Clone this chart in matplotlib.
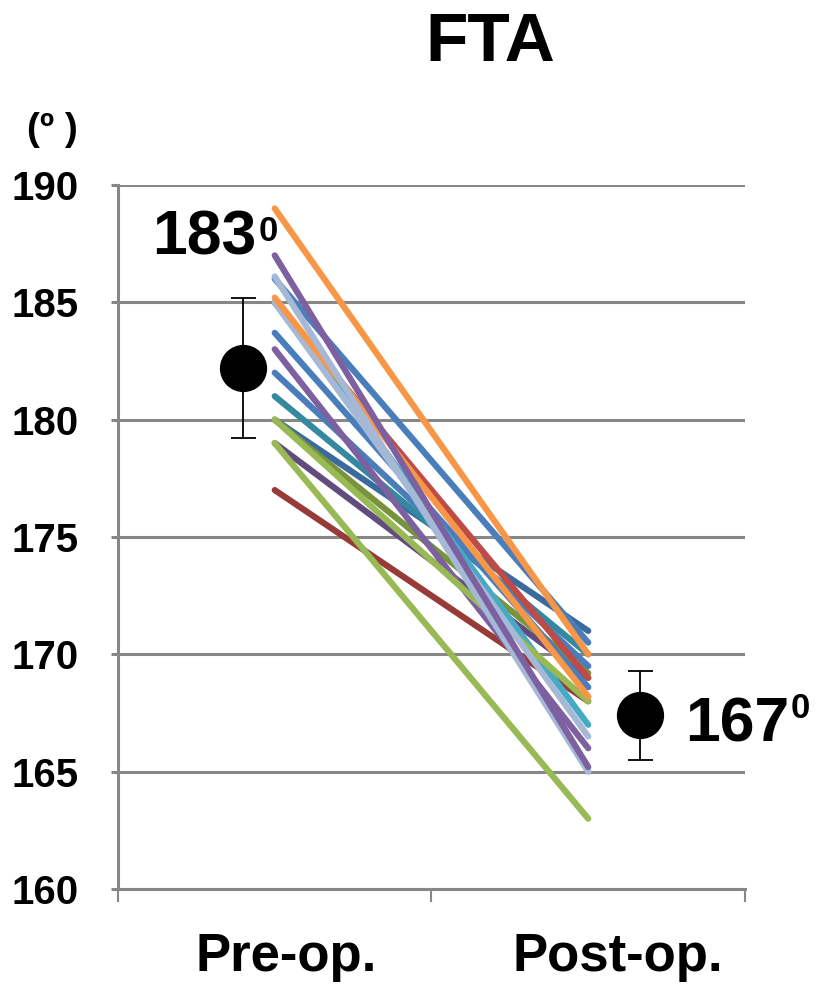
import matplotlib.pyplot as plt
import matplotlib.transforms as mtransforms

plt.rcParams['font.family'] = ['Liberation Sans', 'DejaVu Sans']
plt.rcParams['font.weight'] = 'bold'

# individual patients: pre-op and post-op FTA (degrees)
pre_vals = [180, 179, 177, 181, 180, 182, 183.7, 186, 185, 185, 183, 180, 179,
            185, 185.2, 186.1, 187, 189]
post_vals = [171, 169, 168, 170, 169.2, 169.5, 168.6, 170.5, 169, 167, 166, 168,
             163, 166.5, 168.2, 165, 165.2, 170]
line_colors = ['#3B6A9E', '#624C7E', '#973A38', '#33899F', '#77933C', '#4A7EBB',
               '#4A7EBB', '#4A7EBB', '#BE4B48', '#46AAC5', '#7D60A0', '#98B954',
               '#98B954', '#A5B8D6', '#F79646', '#A5B8D6', '#7D60A0', '#F79646']

categories = ['Pre-op.', 'Post-op.']
mean_vals = [182.2, 167.4]
sd_vals = [3.0, 1.9]
mean_x = [-0.10, 1.165]
mean_labels = ['183', '167']

fig = plt.figure(figsize=(8.2, 9.84), dpi=100)
ax = fig.add_axes([0.1439, 0.0965, 0.7646, 0.7155])

for a, b, c in zip(pre_vals, post_vals, line_colors):
    ax.plot([0, 1], [a, b], color=c, linewidth=4.5, solid_capstyle='round', zorder=3)

ax.errorbar(mean_x, mean_vals, yerr=sd_vals, fmt='o', color='black', markersize=33,
            ecolor='black', elinewidth=1.3, capsize=9, capthick=1.3, zorder=5)

ax.set_xlim(-0.5, 1.5)
ax.set_ylim(160, 190)
ax.set_yticks(range(160, 191, 5))
ax.yaxis.grid(True, color='#878787', linewidth=2.2)
ax.set_axisbelow(True)

for s in ['top', 'right']:
    ax.spines[s].set_visible(False)
for s in ['left', 'bottom']:
    ax.spines[s].set_color('#878787')
    ax.spines[s].set_linewidth(2.2)

ax.tick_params(axis='y', length=5, width=2.2, color='#878787', labelsize=29, pad=23)
ax.set_xticks([-0.5, 0.5, 1.5])
ax.set_xticklabels([])
ax.tick_params(axis='x', length=9, width=1.5, color='#878787')
for label in ax.get_yticklabels():
    label.set_fontweight('bold')

trans = mtransforms.blended_transform_factory(ax.transData, ax.transAxes)
ax.text(0.036, -0.097, categories[0], transform=trans, ha='center', va='center',
        fontsize=38, fontweight='bold')
ax.text(1.095, -0.097, categories[1], transform=trans, ha='center', va='center',
        fontsize=38, fontweight='bold')

# mean value labels with superscript 0
ax.text(-0.392, 187.02, mean_labels[0], fontsize=45, fontweight='bold',
        ha='left', va='baseline', zorder=6)
ax.text(-0.05, 187.6, '0', fontsize=25, fontweight='bold',
        ha='left', va='baseline', zorder=6)
ax.text(1.31, 166.27, mean_labels[1], fontsize=45, fontweight='bold',
        ha='left', va='baseline', zorder=6, clip_on=False)
ax.text(1.646, 167.27, '0', fontsize=25, fontweight='bold',
        ha='left', va='baseline', zorder=6, clip_on=False)

fig.text(490 / 820, 1 - 43 / 984, 'FTA', fontsize=50, fontweight='bold',
         ha='center', va='center')
fig.text(52 / 820, 1 - 130 / 984, '(º )', fontsize=28, fontweight='bold',
         ha='center', va='center')

fig.savefig('out.png', dpi=100)
